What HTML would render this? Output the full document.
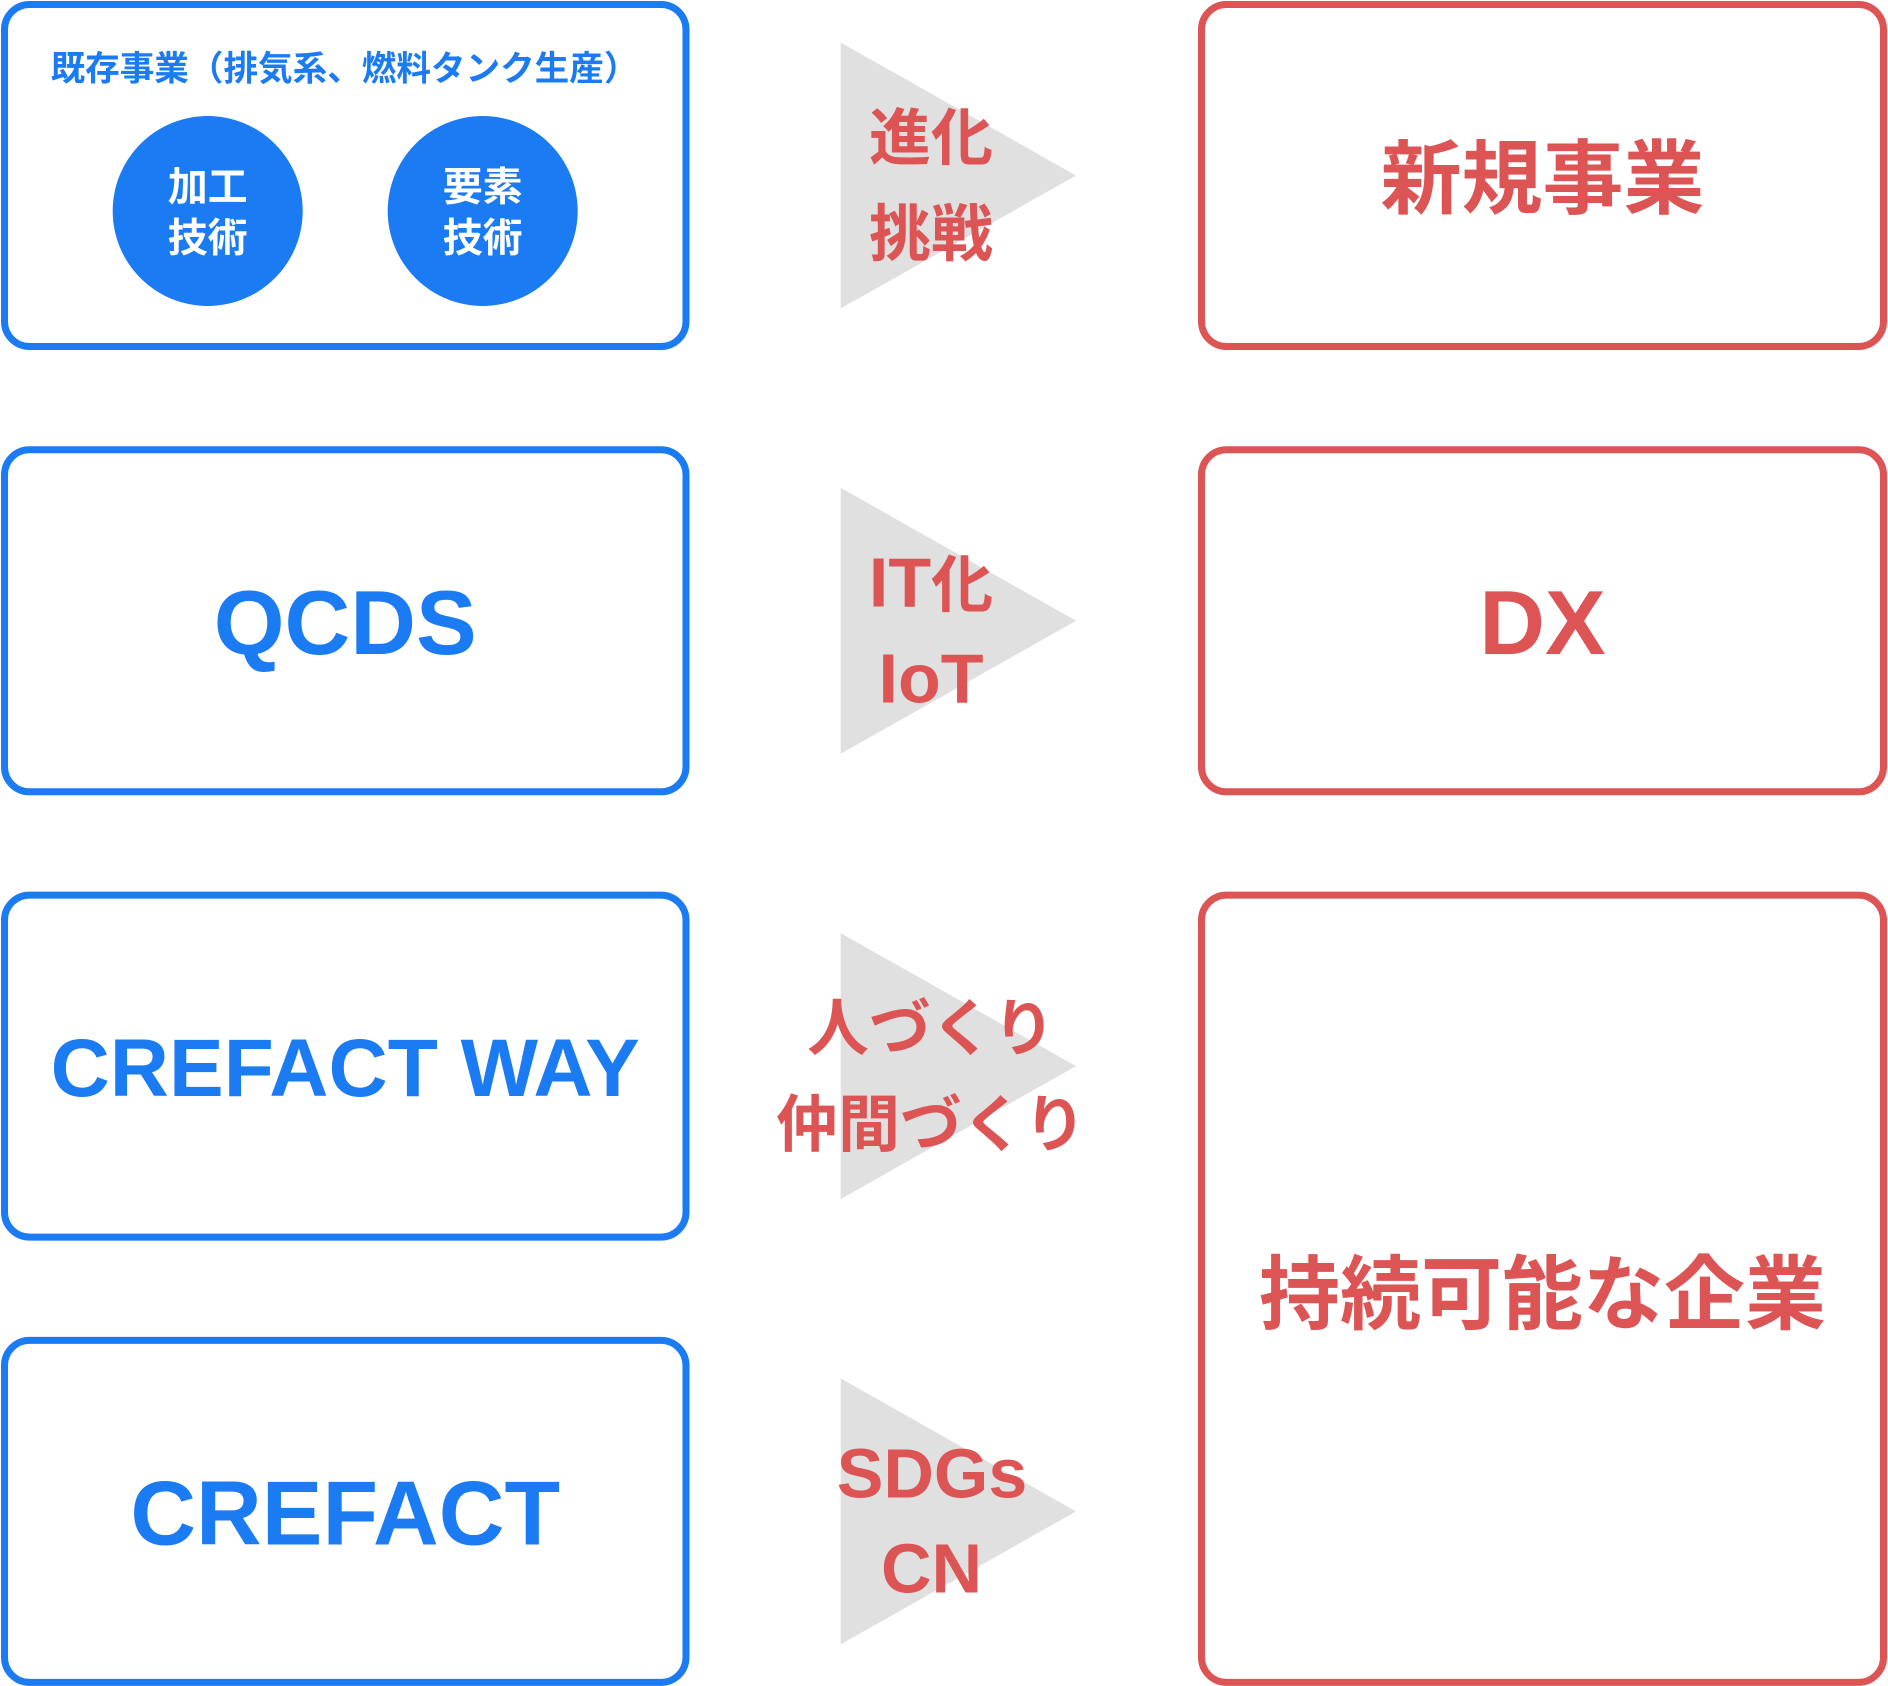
<!DOCTYPE html>
<html>
<head>
<meta charset="utf-8">
<style>
  html, body { margin: 0; padding: 0; background: #ffffff; }
  body { width: 1888px; height: 1686px; overflow: hidden; }
  svg { display: block; }
  text { font-family: "Liberation Sans", "Noto Sans CJK JP", sans-serif; font-weight: 700; }
</style>
</head>
<body>
<svg width="1888" height="1686" viewBox="0 0 1888 1686" xmlns="http://www.w3.org/2000/svg">
  <!-- Left boxes -->
  <g fill="#ffffff" stroke="#1B7BF3" stroke-width="7">
    <rect x="4.5" y="4.5" width="681.5" height="342" rx="25" ry="25"/>
    <rect x="4.5" y="449.8" width="681.5" height="342" rx="25" ry="25"/>
    <rect x="4.5" y="895.1" width="681.5" height="342" rx="25" ry="25"/>
    <rect x="4.5" y="1340.4" width="681.5" height="342" rx="25" ry="25"/>
  </g>
  <!-- Right boxes -->
  <g fill="#ffffff" stroke="#DC5454" stroke-width="7">
    <rect x="1201.5" y="4.5" width="682" height="342" rx="25" ry="25"/>
    <rect x="1201.5" y="449.8" width="682" height="342" rx="25" ry="25"/>
    <rect x="1201.5" y="895.1" width="682" height="787.3" rx="25" ry="25"/>
  </g>

  <!-- Triangles -->
  <g fill="#E0E0E0">
    <polygon points="840.7,42.5 840.7,308.5 1076,175.5"/>
    <polygon points="840.7,487.8 840.7,753.8 1076,620.8"/>
    <polygon points="840.7,933.1 840.7,1199.1 1076,1066.1"/>
    <polygon points="840.7,1378.4 840.7,1644.4 1076,1511.4"/>
  </g>

  <!-- Row 1 left content -->
  <text x="344.5" y="80.6" font-size="34.6" fill="#1B7BF3" text-anchor="middle">既存事業（排気系、燃料タンク生産）</text>
  <circle cx="207.7" cy="211" r="95" fill="#1B7BF3"/>
  <circle cx="482.7" cy="211" r="95" fill="#1B7BF3"/>
  <g fill="#ffffff" font-size="40" text-anchor="middle">
    <text x="207.7" y="200.7">加工</text>
    <text x="207.7" y="251.7">技術</text>
    <text x="482.7" y="200.7">要素</text>
    <text x="482.7" y="251.7">技術</text>
  </g>

  <!-- Left big labels -->
  <g fill="#1B7BF3" text-anchor="middle">
    <text x="345.2" y="653.8" font-size="91">QCDS</text>
    <text x="345.2" y="1096" font-size="82">CREFACT WAY</text>
    <text x="345.2" y="1544.6" font-size="91">CREFACT</text>
  </g>

  <!-- Middle labels -->
  <g fill="#DC5454" text-anchor="middle">
    <text x="931" y="159.5" font-size="62">進化</text>
    <text x="931" y="255.5" font-size="62">挑戦</text>

    <text x="931" y="606.3" font-size="62"><tspan font-size="70">IT</tspan>化</text>
    <text x="931" y="702.3" font-size="70">IoT</text>

    <text x="931" y="1050" font-size="62">人づくり</text>
    <text x="931" y="1146" font-size="62">仲間づくり</text>

    <text x="932" y="1497.7" font-size="70">SDGs</text>
    <text x="931.5" y="1592.7" font-size="70">CN</text>
  </g>

  <!-- Right labels -->
  <g fill="#DC5454" text-anchor="middle">
    <text x="1542.5" y="207.3" font-size="81">新規事業</text>
    <text x="1542.5" y="653.8" font-size="91">DX</text>
    <text x="1542.5" y="1323" font-size="81">持続可能な企業</text>
  </g>
</svg>
</body>
</html>
